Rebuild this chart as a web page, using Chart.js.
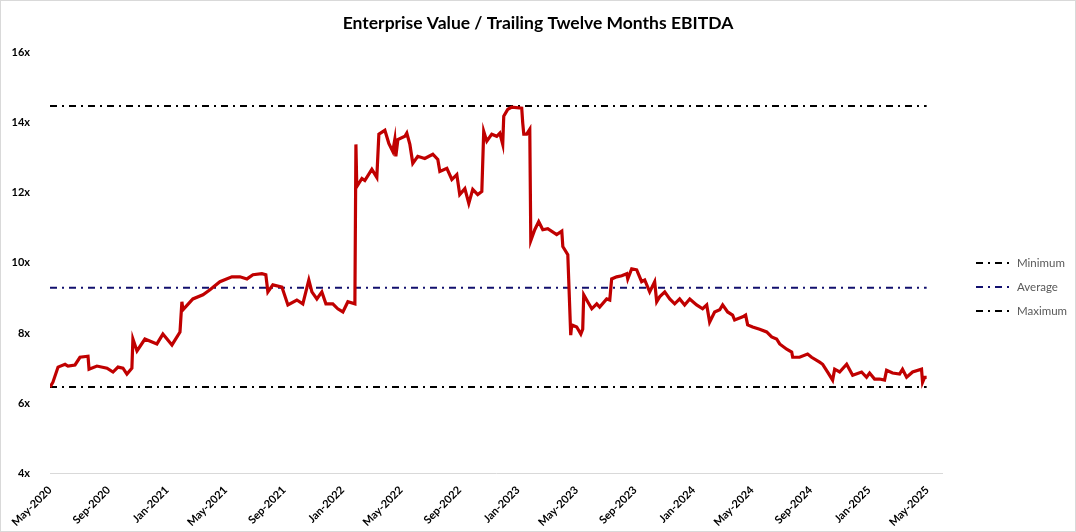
<!DOCTYPE html>
<html>
<head>
<meta charset="utf-8">
<script src="https://cdn.jsdelivr.net/npm/chart.js@4"></script>
<style>
  html, body { margin: 0; padding: 0; background: #fff; }
  #wrap { width: 1076px; height: 532px; box-sizing: border-box; border: 1px solid #d9d9d9; }
</style>
</head>
<body>
<div id="wrap"><canvas id="myChart"></canvas></div>
<script>
// months since May-2020
const tickLabels = ["May-2020", "Sep-2020", "Jan-2021", "May-2021", "Sep-2021", "Jan-2022", "May-2022",
  "Sep-2022", "Jan-2023", "May-2023", "Sep-2023", "Jan-2024", "May-2024", "Sep-2024", "Jan-2025", "May-2025"];

const months = [
  0, 0.2, 0.55, 1.03, 1.23, 1.71, 2.05, 2.6, 2.67, 3.21, 3.9, 4.31, 4.65, 4.99, 5.26, 5.6, 5.67, 5.95,
  6.49, 7.31, 7.72, 8.34, 8.89, 9.02, 9.09, 9.77, 10.46, 10.94, 11.62, 12.44, 12.99, 13.47, 13.88, 14.49,
  14.76, 14.9, 15.24, 15.86, 16.27, 16.88, 17.29, 17.7, 17.91, 18.25, 18.59, 18.87, 19.34, 19.68, 20.03,
  20.37, 20.85, 20.92, 20.98, 21.33, 21.53, 22.01, 22.35, 22.49, 22.9, 23.17, 23.44, 23.58, 23.65, 23.79,
  24.27, 24.4, 24.61, 24.81, 25.15, 25.63, 26.18, 26.52, 26.66, 27.14, 27.48, 27.82, 28.02, 28.37, 28.64,
  28.91, 29.25, 29.53, 29.66, 29.87, 30.21, 30.55, 30.76, 30.96, 31.03, 31.31, 31.58, 32.26, 32.33, 32.4,
  32.6, 32.81, 32.88, 33.15, 33.42, 33.7, 34.04, 34.65, 35.0, 35.07, 35.41, 35.61, 35.68, 36.02, 36.3,
  36.43, 36.5, 36.77, 37.05, 37.39, 37.59, 38.07, 38.28, 38.41, 38.75, 39.1, 39.44, 39.51, 39.78, 40.12,
  40.46, 40.67, 41.01, 41.35, 41.49, 41.69, 42.04, 42.38, 42.72, 43.06, 43.4, 43.75, 44.22, 44.63, 44.91,
  45.11, 45.45, 45.8, 46.0, 46.34, 46.68, 46.82, 47.37, 47.57, 47.71, 48.05, 48.53, 49.01, 49.35, 49.69,
  49.9, 50.38, 50.72, 50.79, 51.26, 51.81, 52.08, 52.63, 52.84, 53.18, 53.52, 53.66, 54.0, 54.48, 54.89,
  55.5, 55.84, 56.05, 56.39, 56.73, 57.07, 57.21, 57.62, 58.1, 58.3, 58.58, 58.99, 59.6, 59.67, 59.81, 59.95
];

const evEbitda = [
  6.46, 6.6, 7.03, 7.11, 7.06, 7.09, 7.31, 7.34, 6.97, 7.06, 7.0, 6.89, 7.03, 7.0, 6.83, 7.0, 7.83, 7.49,
  7.83, 7.69, 7.97, 7.66, 8.03, 8.89, 8.66, 8.97, 9.09, 9.23, 9.46, 9.6, 9.6, 9.54, 9.66, 9.69,
  9.66, 9.17, 9.37, 9.31, 8.8, 8.94, 8.83, 9.51, 9.17, 8.97, 9.17, 8.83, 8.83, 8.69, 8.6,
  8.89, 8.83, 13.37, 12.17, 12.4, 12.34, 12.66, 12.43, 13.66, 13.77, 13.4, 13.17, 13.51, 13.03, 13.51,
  13.6, 13.69, 13.37, 12.83, 13.03, 12.97, 13.09, 12.94, 12.6, 12.69, 12.37, 12.51, 11.94, 12.11, 11.69,
  12.09, 11.94, 12.03, 13.74, 13.46, 13.66, 13.6, 13.69, 13.37, 14.17, 14.37, 14.43, 14.4, 13.97, 13.66,
  13.66, 13.8, 10.63, 10.94, 11.17, 10.94, 10.97, 10.8, 10.9, 10.46, 10.23, 7.94, 8.23, 8.17, 7.97,
  8.11, 9.09, 8.89, 8.69, 8.83, 8.74, 8.97, 8.94, 9.54, 9.6, 9.63, 9.69, 9.54, 9.83, 9.8,
  9.46, 9.51, 9.17, 9.46, 8.89, 9.03, 9.17, 8.97, 8.83, 8.97, 8.8, 8.97, 8.8, 8.69, 8.8,
  8.31, 8.6, 8.66, 8.8, 8.6, 8.51, 8.37, 8.46, 8.51, 8.23, 8.17, 8.11, 8.03, 7.89, 7.83,
  7.69, 7.54, 7.46, 7.31, 7.31, 7.4, 7.31, 7.17, 7.11, 6.89, 6.66, 6.97, 6.89, 7.11, 6.8,
  6.89, 6.74, 6.86, 6.69, 6.69, 6.66, 6.94, 6.86, 6.83, 6.97, 6.74, 6.89, 6.97, 6.6, 6.74, 6.74
];

const minValue = 6.46;
const avgValue = 9.29;
const maxValue = 14.46;

const series = months.map((m, i) => ({ x: m, y: evEbitda[i] }));
const flat = (v) => [{ x: months[0], y: v }, { x: months[months.length - 1], y: v }];
const dashDot = [7, 5, 2, 5];

// legend drawn at the right, like the spreadsheet one (dash-dot samples)
const sideLegend = {
  id: "sideLegend",
  afterDraw(chart) {
    const ctx = chart.ctx;
    const items = chart.data.datasets.slice(1);
    ctx.save();
    ctx.font = "11.5px Lato";
    ctx.textBaseline = "middle";
    ctx.textAlign = "left";
    items.forEach((ds, i) => {
      const y = 262 + i * 24;
      ctx.beginPath();
      ctx.setLineDash(ds.borderDash);
      ctx.lineWidth = 2;
      ctx.strokeStyle = ds.borderColor;
      ctx.moveTo(975, y);
      ctx.lineTo(1008, y);
      ctx.stroke();
      ctx.setLineDash([]);
      ctx.fillStyle = "#595959";
      ctx.fillText(ds.label, 1016, y);
    });
    ctx.restore();
  },
};

new Chart(document.getElementById("myChart"), {
  type: "line",
  data: {
    datasets: [
      {
        label: "EV / EBITDA",
        data: series,
        borderColor: "#C00000",
        borderWidth: 3.2,
        pointRadius: 0,
        tension: 0,
      },
      {
        label: "Minimum",
        data: flat(minValue),
        borderColor: "#000000",
        borderWidth: 2,
        borderDash: dashDot,
        pointRadius: 0,
      },
      {
        label: "Average",
        data: flat(avgValue),
        borderColor: "#12106E",
        borderWidth: 2,
        borderDash: dashDot,
        pointRadius: 0,
      },
      {
        label: "Maximum",
        data: flat(maxValue),
        borderColor: "#000000",
        borderWidth: 2,
        borderDash: dashDot,
        pointRadius: 0,
      },
    ],
  },
  options: {
    responsive: true,
    maintainAspectRatio: false,
    animation: false,
    layout: { padding: { left: 0, right: 0, top: 2, bottom: 0 } },
    plugins: {
      title: {
        display: true,
        text: "Enterprise Value / Trailing Twelve Months EBITDA",
        color: "#000",
        font: { family: "Lato", size: 17.5, weight: "bold" },
        padding: { top: 10, bottom: 18 },
      },
      legend: { display: false },
      tooltip: { enabled: false },
    },
    scales: {
      x: {
        type: "linear",
        min: 0,
        max: 61,
        grid: { display: false },
        border: { display: true, color: "#d9d9d9", width: 1 },
        ticks: {
          stepSize: 4,
          padding: 2,
          includeBounds: false,
          autoSkip: false,
          maxRotation: 45,
          minRotation: 45,
          color: "#000",
          font: { family: "Lato", size: 11, weight: "bold" },
          callback: (v) => tickLabels[v / 4],
        },
      },
      y: {
        min: 4,
        max: 16,
        grid: { display: false },
        border: { display: false },
        afterFit: (scale) => { scale.width = 49; },
        ticks: {
          stepSize: 2,
          padding: 12,
          color: "#000",
          font: { family: "Lato", size: 11, weight: "bold" },
          callback: (v) => v + "x",
        },
      },
      // empty space on the right that holds the legend
      legendSpace: {
        type: "linear",
        position: "right",
        grid: { display: false },
        border: { display: false },
        ticks: { display: false },
        afterFit: (scale) => { scale.width = 133; },
      },
    },
  },
  plugins: [sideLegend],
});
</script>
</body>
</html>
